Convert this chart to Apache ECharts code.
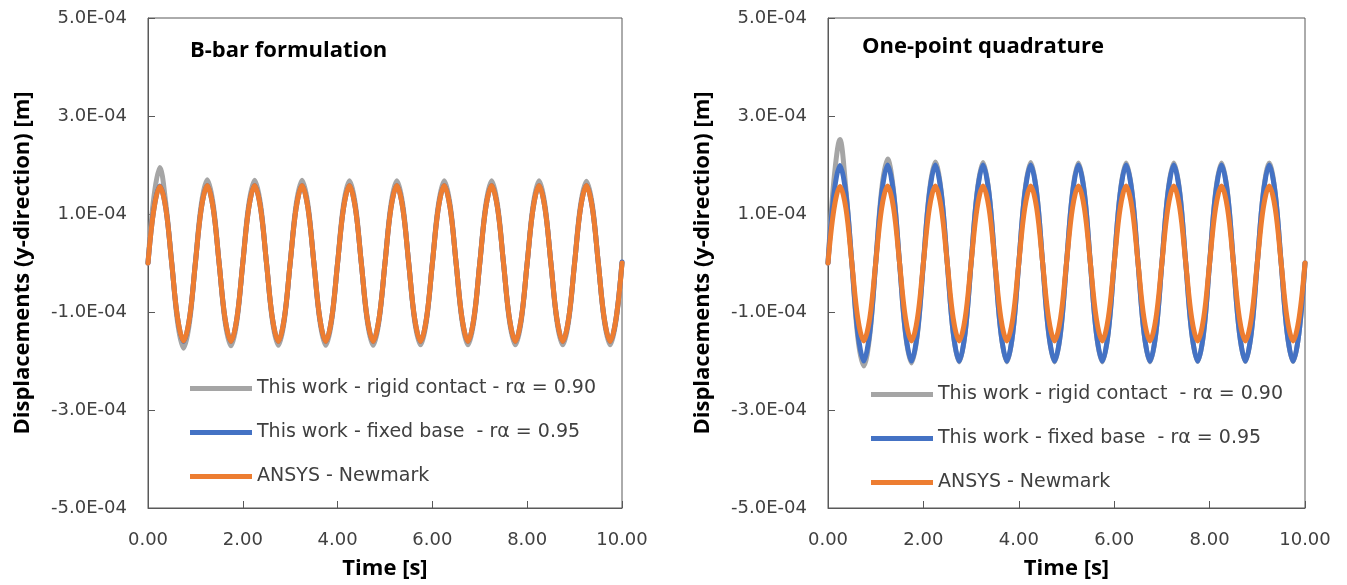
<!DOCTYPE html>
<html>
<head>
<meta charset="utf-8">
<title>Vertical displacement histories</title>
<script src="https://cdn.jsdelivr.net/npm/echarts@6/dist/echarts.min.js"></script>
<style>
  html, body { margin: 0; padding: 0; background: #ffffff; }
  #chart { width: 1347px; height: 585px; }
</style>
</head>
<body>
<div id="chart"></div>
<script>
// Sampling instants [s]: every 1/8 s from 0 to 10 s
const time = [];
for (let i = 0; i <= 80; i++) time.push(i * 0.125);

// Displacements in units of 1e-4 m, one row per period of ~1 s
const UNIT = 1e-4;

// ---- B-bar formulation ----
const rigidBbar = [
  0.00, 1.35, 1.95, 1.22, 0.02, -1.22, -1.74, -1.22,
  0.02, 1.20, 1.70, 1.20, 0.01, -1.19, -1.69, -1.19,
  0.01, 1.19, 1.69, 1.19, 0.00, -1.18, -1.68, -1.18,
  0.01, 1.19, 1.69, 1.19, 0.00, -1.18, -1.68, -1.18,
  0.01, 1.19, 1.68, 1.19, 0.00, -1.18, -1.68, -1.18,
  0.01, 1.19, 1.68, 1.19, 0.00, -1.18, -1.67, -1.18,
  0.01, 1.18, 1.68, 1.18, 0.00, -1.18, -1.67, -1.18,
  0.01, 1.18, 1.68, 1.18, 0.00, -1.18, -1.67, -1.18,
  0.01, 1.18, 1.68, 1.18, 0.00, -1.18, -1.67, -1.18,
  0.01, 1.18, 1.67, 1.18, 0.00, -1.17, -1.67, -1.17,
  0.00
];
const fixedBbar = [
  0.00, 1.11, 1.57, 1.12, 0.00, -1.13, -1.60, -1.13,
  0.00, 1.12, 1.58, 1.12, 0.00, -1.13, -1.60, -1.13,
  0.00, 1.12, 1.58, 1.12, 0.00, -1.13, -1.60, -1.13,
  0.00, 1.12, 1.58, 1.12, 0.00, -1.13, -1.60, -1.13,
  0.00, 1.12, 1.58, 1.12, 0.00, -1.13, -1.60, -1.13,
  0.00, 1.12, 1.58, 1.12, 0.00, -1.13, -1.60, -1.13,
  0.00, 1.12, 1.58, 1.12, 0.00, -1.13, -1.60, -1.13,
  0.00, 1.12, 1.58, 1.12, 0.00, -1.13, -1.60, -1.13,
  0.00, 1.12, 1.58, 1.12, 0.00, -1.13, -1.60, -1.13,
  0.00, 1.12, 1.58, 1.12, 0.00, -1.13, -1.60, -1.13,
  0.02
];
const ansysBbar = [
  0.00, 1.10, 1.56, 1.12, 0.00, -1.13, -1.59, -1.13,
  0.00, 1.12, 1.58, 1.12, 0.00, -1.13, -1.60, -1.13,
  0.00, 1.12, 1.58, 1.12, 0.00, -1.13, -1.60, -1.13,
  0.00, 1.12, 1.58, 1.12, 0.00, -1.13, -1.60, -1.13,
  0.00, 1.12, 1.58, 1.12, 0.00, -1.13, -1.60, -1.13,
  0.00, 1.12, 1.58, 1.12, 0.00, -1.13, -1.60, -1.13,
  0.00, 1.12, 1.58, 1.12, 0.00, -1.13, -1.60, -1.13,
  0.00, 1.12, 1.58, 1.12, 0.00, -1.13, -1.60, -1.13,
  0.00, 1.12, 1.58, 1.12, 0.00, -1.13, -1.60, -1.13,
  0.00, 1.12, 1.58, 1.12, 0.00, -1.13, -1.60, -1.13,
  0.00
];

// ---- One-point quadrature ----
const rigidOne = [
  0.00, 1.70, 2.52, 1.50, 0.00, -1.52, -2.10, -1.48,
  0.00, 1.50, 2.12, 1.46, 0.00, -1.45, -2.04, -1.45,
  0.00, 1.45, 2.06, 1.44, 0.00, -1.43, -2.02, -1.43,
  0.00, 1.44, 2.05, 1.44, 0.00, -1.43, -2.02, -1.43,
  0.00, 1.44, 2.05, 1.44, 0.00, -1.43, -2.02, -1.43,
  0.00, 1.44, 2.04, 1.44, 0.00, -1.43, -2.02, -1.43,
  0.00, 1.44, 2.04, 1.44, 0.00, -1.43, -2.02, -1.43,
  0.00, 1.44, 2.04, 1.44, 0.00, -1.43, -2.01, -1.43,
  0.00, 1.44, 2.04, 1.44, 0.00, -1.43, -2.01, -1.43,
  0.00, 1.43, 2.04, 1.43, 0.00, -1.42, -2.01, -1.42,
  0.00
];
const fixedOne = [
  0.00, 1.41, 1.99, 1.42, 0.00, -1.42, -2.00, -1.42,
  0.00, 1.41, 2.00, 1.42, 0.00, -1.42, -2.00, -1.42,
  0.00, 1.41, 2.00, 1.42, 0.00, -1.42, -2.00, -1.42,
  0.00, 1.41, 2.00, 1.42, 0.00, -1.42, -2.00, -1.42,
  0.00, 1.41, 2.00, 1.42, 0.00, -1.42, -2.00, -1.42,
  0.00, 1.41, 2.00, 1.42, 0.00, -1.42, -2.00, -1.42,
  0.00, 1.41, 2.00, 1.42, 0.00, -1.42, -2.00, -1.42,
  0.00, 1.41, 2.00, 1.42, 0.00, -1.42, -2.00, -1.42,
  0.00, 1.41, 2.00, 1.42, 0.00, -1.42, -2.00, -1.42,
  0.00, 1.41, 2.00, 1.42, 0.00, -1.42, -2.00, -1.42,
  0.00
];
const ansysOne = [
  0.00, 1.10, 1.56, 1.12, 0.00, -1.13, -1.59, -1.13,
  0.00, 1.12, 1.57, 1.12, 0.00, -1.13, -1.59, -1.13,
  0.00, 1.12, 1.57, 1.12, 0.00, -1.13, -1.59, -1.13,
  0.00, 1.12, 1.57, 1.12, 0.00, -1.13, -1.59, -1.13,
  0.00, 1.12, 1.57, 1.12, 0.00, -1.13, -1.59, -1.13,
  0.00, 1.12, 1.57, 1.12, 0.00, -1.13, -1.59, -1.13,
  0.00, 1.12, 1.57, 1.12, 0.00, -1.13, -1.59, -1.13,
  0.00, 1.12, 1.57, 1.12, 0.00, -1.13, -1.59, -1.13,
  0.00, 1.12, 1.57, 1.12, 0.00, -1.13, -1.59, -1.13,
  0.00, 1.12, 1.57, 1.12, 0.00, -1.13, -1.59, -1.13,
  0.00
];

const panelTitles = ['B-bar formulation', 'One-point quadrature'];
const namesBbar = ['This work - rigid contact - r\u03b1 = 0.90', 'This work - fixed base  - r\u03b1 = 0.95', 'ANSYS - Newmark'];
const namesOne = ['This work - rigid contact  - r\u03b1 = 0.90', 'This work - fixed base  - r\u03b1 = 0.95', 'ANSYS - Newmark'];
const xAxisTitle = 'Time [s]';
const yAxisTitle = 'Displacements (y-direction) [m]';

const COLORS = ['#A5A5A5', '#4472C4', '#ED7D31'];
const FONT = '"DejaVu Sans", "Open Sans", sans-serif';
const BOLD_FONT = '"Open Sans", "Noto Sans", sans-serif';
const AXIS_COLOR = '#595959';
const TEXT_COLOR = '#404040';

function pairs(values) {
  return time.map((t, i) => [t, values[i] * UNIT]);
}

function fmtSci(v) {
  const s = Number(v).toExponential(1);          // e.g. "-3.0e-4"
  const m = s.match(/^(-?\d\.\d)e([+-])(\d+)$/);
  if (!m) return s;
  const exp = m[3].padStart(2, '0');
  return m[1] + 'E' + m[2] + exp;
}

function xAxis(gridIndex) {
  return {
    gridIndex, type: 'value', min: 0, max: 10, interval: 2,
    name: xAxisTitle, nameLocation: 'middle', nameGap: 50,
    nameTextStyle: { fontFamily: BOLD_FONT, fontSize: 22, fontWeight: 'bold', color: '#000' },
    axisLine: { show: true, onZero: false, lineStyle: { color: AXIS_COLOR, width: 1 } },
    axisTick: { show: true, inside: true, length: 7, lineStyle: { color: AXIS_COLOR } },
    axisLabel: { margin: 23, fontFamily: FONT, fontSize: 18, color: TEXT_COLOR,
                 formatter: v => Number(v).toFixed(2) },
    splitLine: { show: false }
  };
}

function yAxis(gridIndex) {
  return {
    gridIndex, type: 'value', min: -5e-4, max: 5e-4, interval: 2e-4,
    name: yAxisTitle, nameLocation: 'middle', nameGap: 114,
    nameTextStyle: { fontFamily: BOLD_FONT, fontSize: 22, fontWeight: 'bold', color: '#000' },
    axisLine: { show: true, onZero: false, lineStyle: { color: AXIS_COLOR, width: 1 } },
    axisTick: { show: true, inside: true, length: 7, lineStyle: { color: AXIS_COLOR } },
    axisLabel: { margin: 21, fontFamily: FONT, fontSize: 18, color: TEXT_COLOR, formatter: fmtSci },
    splitLine: { show: false }
  };
}

function lineSeries(name, values, color, gridIndex) {
  return {
    type: 'line', name, data: pairs(values),
    xAxisIndex: gridIndex, yAxisIndex: gridIndex,
    smooth: 0.35, showSymbol: false, symbol: 'none',
    lineStyle: { color, width: 5, cap: 'round', join: 'round' },
    itemStyle: { color },
    emphasis: { disabled: true },
    animation: false
  };
}

function legend(names, left, top) {
  return {
    data: names, orient: 'vertical', left, top,
    icon: 'rect', itemWidth: 62, itemHeight: 5, itemGap: 25,
    textStyle: { fontFamily: FONT, fontSize: 19, color: TEXT_COLOR, padding: [0, 0, 0, 0] },
    selectedMode: false
  };
}

const chart = echarts.init(document.getElementById('chart'), null, { renderer: 'canvas' });

chart.setOption({
  backgroundColor: '#ffffff',
  animation: false,
  title: [
    { text: panelTitles[0], left: 185, top: 35,
      textStyle: { fontFamily: BOLD_FONT, fontSize: 22, fontWeight: 'bold', color: '#000' } },
    { text: panelTitles[1], left: 857, top: 31,
      textStyle: { fontFamily: BOLD_FONT, fontSize: 22, fontWeight: 'bold', color: '#000' } }
  ],
  legend: [legend(namesBbar, 185, 374), legend(namesOne, 866, 380)],
  grid: [
    { left: 148, right: 1347 - 622, top: 18, bottom: 585 - 508, show: true,
      borderColor: AXIS_COLOR, borderWidth: 1, backgroundColor: 'transparent' },
    { left: 828, right: 1347 - 1305, top: 18, bottom: 585 - 508, show: true,
      borderColor: AXIS_COLOR, borderWidth: 1, backgroundColor: 'transparent' }
  ],
  xAxis: [xAxis(0), xAxis(1)],
  yAxis: [yAxis(0), yAxis(1)],
  series: [
    lineSeries(namesBbar[0], rigidBbar, COLORS[0], 0),
    lineSeries(namesBbar[1], fixedBbar, COLORS[1], 0),
    lineSeries(namesBbar[2], ansysBbar, COLORS[2], 0),
    lineSeries(namesOne[0], rigidOne, COLORS[0], 1),
    lineSeries(namesOne[1], fixedOne, COLORS[1], 1),
    lineSeries(namesOne[2], ansysOne, COLORS[2], 1)
  ]
});
</script>
</body>
</html>
